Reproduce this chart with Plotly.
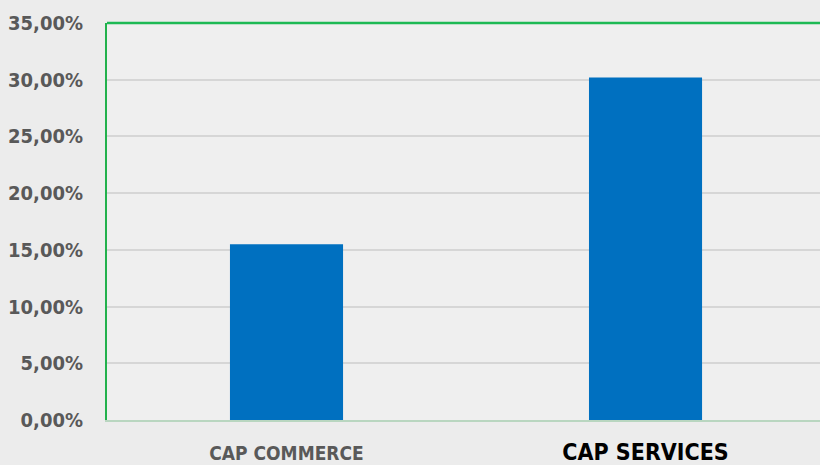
import plotly.graph_objects as go

categories = ["CAP COMMERCE", "CAP SERVICES"]
values = [0.155, 0.302]
tick_vals = [0, 0.05, 0.10, 0.15, 0.20, 0.25, 0.30, 0.35]

label_styles = [
    "color:#595959;font-size:19px",
    "color:#000000;font-size:23px",
]
tick_text = [f"<span style='{s}'>{c}</span>" for c, s in zip(categories, label_styles)]

FAMILY = "DejaVu Sans Condensed, Liberation Sans Narrow, DejaVu Sans, sans-serif"

fig = go.Figure(
    go.Bar(
        x=categories,
        y=values,
        marker=dict(color="#0070C0", line=dict(width=0)),
        width=0.315,
    )
)

fig.update_layout(
    width=820,
    height=465,
    margin=dict(l=107, r=0, t=23, b=45),
    paper_bgcolor="#ececec",
    plot_bgcolor="#efefef",
    separators=", ",
    showlegend=False,
    font=dict(family=FAMILY, weight="bold", color="#595959"),
    shapes=[
        dict(type="line", xref="paper", yref="paper", x0=0, x1=1, y0=1, y1=1,
             line=dict(color="#1DB954", width=2.5)),
    ],
)

fig.update_yaxes(
    range=[0, 0.35],
    tickvals=tick_vals,
    tickformat=".2%",
    tickfont=dict(size=20, color="#595959", family=FAMILY, weight="bold"),
    showgrid=True,
    gridcolor="#d6d6d6",
    gridwidth=2,
    zeroline=False,
    showline=True,
    linecolor="#22B14C",
    linewidth=2,
    ticklabelstandoff=18,
)

fig.update_xaxes(
    type="category",
    range=[-0.5, 1.486],
    tickvals=categories,
    ticktext=tick_text,
    tickfont=dict(family=FAMILY, weight="bold"),
    showline=True,
    linecolor="#b9d6c0",
    linewidth=2,
    ticklabelstandoff=24,
    showgrid=False,
)

fig.write_html("out.html")
